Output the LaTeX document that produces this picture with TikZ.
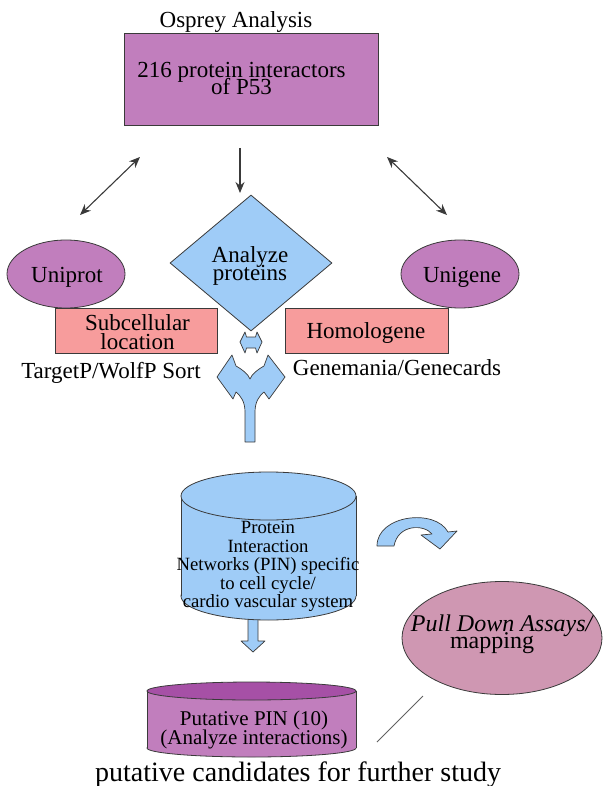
\documentclass[tikz,border=0pt]{standalone}
\usepackage{fontspec}
\setmainfont{Liberation Serif}
\usetikzlibrary{arrows.meta,shapes.geometric}
\definecolor{purp}{HTML}{C17EBD}
\definecolor{purpdark}{HTML}{A650A6}
\definecolor{pinkbox}{HTML}{F79C9C}
\definecolor{lblue}{HTML}{9FCCF7}
\definecolor{mauve}{HTML}{CF97B2}
\definecolor{edge}{HTML}{3A3A3A}
\lineskiplimit=-100pt
\begin{document}
\begin{tikzpicture}[x=1pt,y=-1pt,
  txt/.style={inner sep=0pt, align=center, font={\fontsize{23}{18}\selectfont}},
  shapeline/.style={draw=edge, line width=0.8pt},
  boxnode/.style={shapeline, rectangle, inner sep=0pt},
  ellnode/.style={shapeline, ellipse, inner sep=0pt},
  thinarrow/.style={draw=edge, line width=1.1pt},
  tip/.style={},
  blockarrow/.style={fill=lblue, draw=edge, line width=0.7pt, line join=round}]
\useasboundingbox (0,0) rectangle (608,786);

% top box
\node[boxnode, fill=purp, minimum width=254pt, minimum height=92pt] (top) at (251,79) {};
\node[txt, anchor=base] (osprey) at (236,28) {Osprey Analysis};
\node[txt, font={\fontsize{23}{17}\selectfont}] (p53) at (241.5,78.6) {216 protein interactors\\of P53};

% thin arrows
\coordinate (la1) at (140,157); \coordinate (la2) at (80,215);
\coordinate (ra1) at (387,157); \coordinate (ra2) at (447,215);
\coordinate (da1) at (240,148); \coordinate (da2) at (240,193);
\draw[thinarrow, {Stealth[length=11pt,width=9pt]}-{Stealth[length=11pt,width=9pt]}] (la1) -- (la2);
\draw[thinarrow, {Stealth[length=11pt,width=9pt]}-{Stealth[length=11pt,width=9pt]}] (ra1) -- (ra2);
\draw[thinarrow, -{Stealth[length=11pt,width=9pt]}] (da1) -- (da2);

% diamond
\node[diamond, shapeline, fill=lblue, minimum width=162pt, minimum height=136pt, inner sep=0pt] (dia) at (251,263) {};
\node[txt] (analyze) at (250,265.6) {Analyze\\proteins};

% ellipses
\node[ellnode, fill=purp, minimum width=118pt, minimum height=68pt] (uniprot) at (66,274) {};
\node[txt, anchor=base] (uniprott) at (67,282) {Uniprot};
\node[ellnode, fill=purp, minimum width=118pt, minimum height=68pt] (unigene) at (460,274) {};
\node[txt, anchor=base] (unigenet) at (462,282) {Unigene};

% pink boxes
\node[boxnode, fill=pinkbox, minimum width=162pt, minimum height=45pt] (subcell) at (136,330.5) {};
\node[txt, font={\fontsize{23}{19}\selectfont}] (subcellt) at (137.5,332.2) {Subcellular\\location};
\node[boxnode, fill=pinkbox, minimum width=163pt, minimum height=45pt] (homolo) at (366.5,330.5) {};
\node[txt, anchor=base] (homolot) at (366,338) {Homologene};

\node[txt, anchor=base] (targetp) at (111,378) {TargetP/WolfP Sort};
\node[txt, anchor=base] (genemania) at (397,375) {Genemania/Genecards};

% small double block arrow
\path[blockarrow] (240,342) -- (245,332) -- (246.5,337) -- (255.5,337) -- (257,332) -- (262,342)
  -- (257,353) -- (255.5,348) -- (246.5,348) -- (245,353) -- cycle;

% Y split arrow
\path[blockarrow] (245,442) -- (245,412) .. controls (245,402) and (241,396) .. (236,392)
  -- (233,399) -- (217,377) -- (232,355) -- (236,366)
  .. controls (243,370) and (248,374) .. (250,379)
  .. controls (252,374) and (257,370) .. (264,366)
  -- (268,355) -- (285,377) -- (269,399) -- (264,392)
  .. controls (259,396) and (255,402) .. (255,412) -- (255,442) -- cycle;

% small down block arrow
\path[blockarrow] (248,618) -- (258,618) -- (258,641) -- (265,641) -- (253,652) -- (241,641) -- (248,641) -- cycle;

% blue cylinder
\filldraw[fill=lblue, draw=edge, line width=0.8pt] (268.5,596) ellipse [x radius=87.5pt, y radius=24pt];
\fill[lblue] (181,496) rectangle (356,596);
\draw[edge, line width=0.8pt] (181,496) -- (181,596) (356,496) -- (356,596);
\filldraw[fill=lblue, draw=edge, line width=0.8pt] (268.5,496) ellipse [x radius=87.5pt, y radius=24pt];
\node[txt, font={\fontsize{18.7}{18.5}\selectfont}] (pin) at (268,566.6) {Protein\\Interaction\\Networks (PIN) specific\\to cell cycle/\\cardio vascular system};

% purple cylinder
\filldraw[fill=purp, draw=edge, line width=0.8pt] (251.5,748) ellipse [x radius=104.5pt, y radius=9pt];
\fill[purp] (147,691) rectangle (356,748);
\draw[edge, line width=0.8pt] (147,691) -- (147,748) (356,691) -- (356,748);
\filldraw[fill=purpdark, draw=edge, line width=0.8pt] (251.5,691) ellipse [x radius=104.5pt, y radius=9pt];
\node[txt, font={\fontsize{21}{19}\selectfont}] (putative) at (254,729.5) {Putative PIN (10)\\(Analyze interactions)};

% curved arrow
\path[blockarrow] (377,546) .. controls (377,515) and (435,508) .. (448,532) -- (457,531) -- (440,549)
  -- (421,535) -- (432,534) .. controls (424,524) and (398,524) .. (394,546) -- cycle;

% pull down ellipse
\node[ellnode, fill=mauve, minimum width=200pt, minimum height=113pt] (pull) at (502,638) {};
\node[txt, font={\fontsize{24}{17}\selectfont}] (pullt) at (502.5,633.9) {\textit{Pull Down Assays/}\\mapping\hspace*{21pt}};

% connecting line
\coordinate (ln1) at (377,742); \coordinate (ln2) at (423,696);
\draw[draw=edge!80, line width=1pt] (ln1) -- (ln2);

% caption
\node[txt, font={\fontsize{28}{30}\selectfont}, anchor=base west] (caption) at (95,781) {putative candidates for further study};
\end{tikzpicture}
\end{document}
